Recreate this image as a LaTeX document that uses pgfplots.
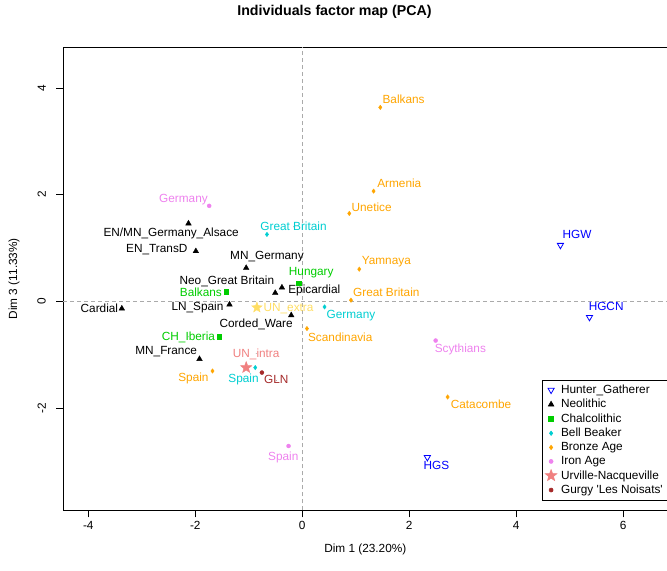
\documentclass[border=0pt]{standalone}
\usepackage{fontspec}
\setmainfont{Liberation Sans}
\usepackage{pgfplots}
\usepackage{pgfplotstable}
\pgfplotsset{compat=1.18}

\definecolor{hgblue}{RGB}{0,0,255}
\definecolor{chalco}{RGB}{0,205,0}
\definecolor{beaker}{RGB}{0,206,209}
\definecolor{bronze}{RGB}{255,165,0}
\definecolor{iron}{RGB}{238,130,238}
\definecolor{unintra}{RGB}{240,128,128}
\definecolor{unextra}{RGB}{255,222,100}
\definecolor{gurgy}{RGB}{165,42,42}
\definecolor{refgray}{RGB}{170,170,170}

\newcommand{\lab}{\fontsize{11.8}{13}\selectfont}

% filled five-pointed star
\pgfdeclareplotmark{fstar}{%
  \pgfpathmoveto{\pgfpointpolar{90}{\pgfplotmarksize}}%
  \pgfpathlineto{\pgfpointpolar{126}{0.42\pgfplotmarksize}}%
  \pgfpathlineto{\pgfpointpolar{162}{\pgfplotmarksize}}%
  \pgfpathlineto{\pgfpointpolar{198}{0.42\pgfplotmarksize}}%
  \pgfpathlineto{\pgfpointpolar{234}{\pgfplotmarksize}}%
  \pgfpathlineto{\pgfpointpolar{270}{0.42\pgfplotmarksize}}%
  \pgfpathlineto{\pgfpointpolar{306}{\pgfplotmarksize}}%
  \pgfpathlineto{\pgfpointpolar{342}{0.42\pgfplotmarksize}}%
  \pgfpathlineto{\pgfpointpolar{18}{\pgfplotmarksize}}%
  \pgfpathlineto{\pgfpointpolar{54}{0.42\pgfplotmarksize}}%
  \pgfpathclose\pgfusepathqfillstroke}

% x y = point, lx ly = centre of its label
\pgfplotstableread{
x y lx ly label
4.827 1.052 5.139 1.239 HGW
5.370 -0.300 5.682 -0.107 HGCN
2.339 -2.930 2.507 -3.099 HGS
}\hg

\pgfplotstableread{
x y lx ly label
-2.127 1.459 -2.451 1.290 {EN/MN\_Germany\_Alsace}
-1.989 0.939 -2.718 0.977 {EN\_TransD}
-1.048 0.625 -0.660 0.851 {MN\_Germany}
-0.505 0.156 -1.409 0.376 {Neo\_Great Britain}
-0.380 0.257 0.225 0.220 Epicardial
-3.373 -0.137 -3.792 -0.137 Cardial
-1.360 -0.062 -1.959 -0.107 {LN\_Spain}
-0.206 -0.263 -0.861 -0.419 {Corded\_Ware}
-1.921 -1.084 -2.544 -0.933 {MN\_France}
}\neo

\pgfplotstableread{
x y lx ly label
-0.062 0.338 0.168 0.550 Hungary
-1.422 0.182 -1.895 0.163 Balkans
-1.553 -0.670 -2.127 -0.670 {CH\_Iberia}
}\chal

\pgfplotstableread{
x y lx ly label
-0.660 1.253 -0.163 1.395 {Great Britain}
0.417 -0.107 0.911 -0.250 Germany
-0.879 -1.245 -1.098 -1.452 Spain
}\bell

\pgfplotstableread{
x y lx ly label
1.459 3.638 1.895 3.775 Balkans
1.334 2.066 1.815 2.197 Armenia
0.879 1.647 1.297 1.760 Unetice
1.066 0.601 1.572 0.751 Yamnaya
0.911 0.019 1.572 0.156 {Great Britain}
0.088 -0.513 0.711 -0.682 Scandinavia
2.718 -1.797 3.343 -1.953 Catacombe
-1.678 -1.309 -2.034 -1.433 Spain
}\bronze

\pgfplotstableread{
x y lx ly label
-1.740 1.790 -2.221 1.929 Germany
2.494 -0.738 2.956 -0.901 Scythians
-0.256 -2.717 -0.355 -2.930 Spain
}\iron

\pgfplotstableread{
x y lx ly label
-1.048 -1.245 -0.861 -0.982 {UN\_intra}
}\unintra

\pgfplotstableread{
x y lx ly label
-0.848 -0.118 -0.256 -0.118 {UN\_extra}
}\unextra

\pgfplotstableread{
x y lx ly label
-0.754 -1.339 -0.486 -1.484 GLN
}\gln

\pgfplotsset{
  labs/.style={only marks, mark=*, mark size=0.01pt, forget plot,
    scatter/use mapped color={draw=none, fill=none},
    nodes near coords, point meta=explicit symbolic,
    every node near coord/.append style={anchor=center, inner sep=0pt, font=\lab,
      text=#1, text height=0.72em, text depth=0pt}},
}

\begin{document}
\begin{tikzpicture}
\begin{axis}[
  name=ax,
  scale only axis, width=604pt, height=463pt,
  xmin=-4.472, xmax=6.829, ymin=-3.925, ymax=4.770,
  xtick={-4,-2,0,2,4,6}, ytick={-2,0,2,4},
  tick align=outside, xtick pos=bottom, ytick pos=left,
  major tick length=7pt,
  tick style={black, line width=0.6pt},
  axis line style={black, line width=0.6pt},
  /pgf/number format/assume math mode=true,
  ticklabel style={font=\lab},
  yticklabel style={rotate=90, anchor=south, inner sep=10pt},
  xlabel={Dim 1 (23.20\%)}, ylabel={Dim 3 (11.33\%)},
  xlabel style={at={(0.5,-0.0842)}, anchor=center, font=\lab},
  ylabel style={at={(-0.0811,0.5)}, anchor=center, font=\lab},
  title={Individuals factor map (PCA)},
  title style={at={(0.449,1.0626)}, anchor=center, font=\bfseries\fontsize{14.2}{16}\selectfont},
  legend style={at={(0.7925,0.0216)}, anchor=south west, draw=black, line width=0.6pt,
    inner sep=3pt, font=\lab, row sep=0.35pt},
  legend cell align=left,
  legend image code/.code={\draw[#1] plot coordinates {(0.15cm,0cm)}; \path (0cm,0cm) (0.42cm,0cm);},
]
\addplot[refgray, dash pattern=on 4pt off 3pt, line width=0.6pt, forget plot] coordinates {(0,-3.925) (0,4.770)};
\addplot[refgray, dash pattern=on 4pt off 3pt, line width=0.6pt, forget plot] coordinates {(-4.472,0) (6.829,0)};

\addplot[only marks, mark=triangle, mark size=3.6pt, mark options={rotate=180, draw=hgblue, line width=0.8pt}] table[x=x,y=y] {\hg};
\addplot[only marks, mark=triangle*, mark size=3.2pt, mark options={draw=black, fill=black}] table[x=x,y=y] {\neo};
\addplot[only marks, mark=square*, mark size=2.3pt, mark options={draw=chalco, fill=chalco}] table[x=x,y=y] {\chal};
\addplot[only marks, mark=diamond*, mark size=2.2pt, mark options={draw=beaker, fill=beaker}] table[x=x,y=y] {\bell};
\addplot[only marks, mark=diamond*, mark size=2.2pt, mark options={draw=bronze, fill=bronze}] table[x=x,y=y] {\bronze};
\addplot[only marks, mark=*, mark size=2pt, mark options={draw=iron, fill=iron}] table[x=x,y=y] {\iron};
\addplot[only marks, mark=fstar, mark size=6pt, mark options={draw=unintra, fill=unintra}] table[x=x,y=y] {\unintra};
\addplot[only marks, mark=*, mark size=2pt, mark options={draw=gurgy, fill=gurgy}] table[x=x,y=y] {\gln};
\addplot[only marks, mark=fstar, mark size=5.5pt, mark options={draw=unextra, fill=unextra}, forget plot] table[x=x,y=y] {\unextra};

\addplot[labs=hgblue] table[x=lx,y=ly,meta=label] {\hg};
\addplot[labs=black] table[x=lx,y=ly,meta=label] {\neo};
\addplot[labs=chalco] table[x=lx,y=ly,meta=label] {\chal};
\addplot[labs=beaker] table[x=lx,y=ly,meta=label] {\bell};
\addplot[labs=bronze] table[x=lx,y=ly,meta=label] {\bronze};
\addplot[labs=iron] table[x=lx,y=ly,meta=label] {\iron};
\addplot[labs=unintra] table[x=lx,y=ly,meta=label] {\unintra};
\addplot[labs=unextra] table[x=lx,y=ly,meta=label] {\unextra};
\addplot[labs=gurgy] table[x=lx,y=ly,meta=label] {\gln};

\legend{Hunter\_Gatherer, Neolithic, Chalcolithic, Bell Beaker, Bronze Age, Iron Age, Urville-Nacqueville, Gurgy \textquotesingle Les Noisats\textquotesingle}
\end{axis}
\pgfresetboundingbox
\path ([xshift=-63pt,yshift=-60pt]ax.south west) rectangle ([xshift=-0.5pt,yshift=47pt]ax.north east);
\end{tikzpicture}
\end{document}
